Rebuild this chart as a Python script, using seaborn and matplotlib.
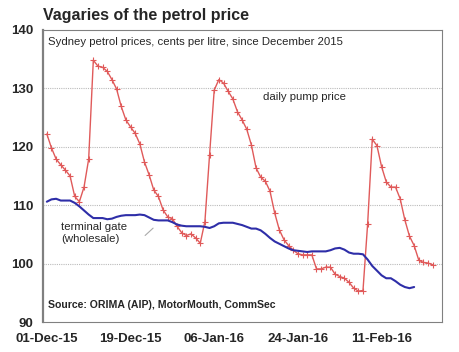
import matplotlib
matplotlib.use('Agg')

import matplotlib.pyplot as plt
import matplotlib.dates as mdates
import numpy as np
import pandas as pd
import seaborn as sns

sns.set_style("white")
plt.rcParams['font.family'] = ['Liberation Sans', 'DejaVu Sans']

# daily pump price (cents per litre), from 01-Dec-15
pump = [122.2, 119.8, 117.9, 116.9, 116.0, 115.0, 111.5, 110.6, 113.1, 117.9,
        134.8, 133.8, 133.6, 132.9, 131.5, 129.9, 126.9, 124.6, 123.4, 122.3,
        120.5, 117.4, 115.2, 112.6, 111.5, 109.2, 108.0, 107.7, 106.4, 105.3,
        104.8, 105.1, 104.4, 103.5, 107.2, 118.6, 129.7, 131.5, 130.9, 129.5,
        128.2, 126.0, 124.6, 123.0, 120.3, 116.4, 114.8, 114.1, 112.4, 108.7,
        105.8, 104.1, 103.1, 102.3, 101.7, 101.5, 101.5, 101.5, 99.1, 99.1,
        99.4, 99.4, 98.2, 97.8, 97.5, 96.8, 95.8, 95.3, 95.4, 106.8,
        121.3, 120.2, 116.6, 114.0, 113.1, 113.1, 111.1, 107.5, 104.7, 103.1,
        100.6, 100.2, 100.1, 99.8]

# terminal gate (wholesale) price
wholesale = [110.6, 111.0, 111.1, 110.8, 110.8, 110.8, 110.4, 109.8, 109.1, 108.4,
             107.8, 107.8, 107.8, 107.6, 107.7, 108.0, 108.2, 108.3, 108.3, 108.3,
             108.4, 108.3, 107.9, 107.5, 107.4, 107.4, 107.4, 107.1, 106.7, 106.5,
             106.4, 106.4, 106.4, 106.4, 106.3, 106.1, 106.4, 106.9, 107.0, 107.0,
             107.0, 106.8, 106.6, 106.3, 106.0, 106.0, 105.7, 105.1, 104.4, 103.8,
             103.4, 103.0, 102.6, 102.3, 102.2, 102.1, 102.0, 102.1, 102.1, 102.1,
             102.1, 102.3, 102.6, 102.7, 102.4, 101.9, 101.7, 101.7, 101.6, 100.7,
             99.6, 98.8, 98.0, 97.5, 97.5, 97.0, 96.4, 96.0, 95.8, 96.0]

start = pd.Timestamp('2015-12-01')
pump_df = pd.DataFrame({'date': pd.date_range(start, periods=len(pump)), 'price': pump})
whole_df = pd.DataFrame({'date': pd.date_range(start, periods=len(wholesale)), 'price': wholesale})

major_dates = pd.date_range(start, periods=5, freq='18D')
y_ticks = [90, 100, 110, 120, 130, 140]

fig = plt.figure(figsize=(4.59, 3.52), dpi=100)
ax = fig.add_axes([0.094, 0.085, 0.868, 0.83])

red = '#e05a5a'
sns.lineplot(data=pump_df, x='date', y='price', ax=ax, color=red, linewidth=1.0,
             marker='+', markersize=5, markeredgewidth=0.8, markeredgecolor=red)
sns.lineplot(data=whole_df, x='date', y='price', ax=ax, color='#2e2ea8', linewidth=1.5)

ax.set_ylim(90, 140)
ax.set_yticks(y_ticks)
ax.set_xlim(start - pd.Timedelta(hours=19), start + pd.Timedelta(days=84.9))
ax.set_xticks(major_dates)
ax.xaxis.set_major_formatter(mdates.DateFormatter('%d-%b-%y'))
ax.xaxis.set_minor_locator(mdates.DayLocator())
ax.set_xlabel('')
ax.set_ylabel('')

for y in [100, 110, 120, 130]:
    ax.axhline(y, color='#bbbbbb', linestyle=(0, (1, 1)), linewidth=0.8, zorder=0)

for s in ax.spines.values():
    s.set_color('#808080')
    s.set_linewidth(0.8)
ax.spines['left'].set_linewidth(1.6)

ax.tick_params(axis='y', which='major', direction='out', length=5, color='#aaaaaa',
               labelsize=9.5, pad=2)
ax.tick_params(axis='x', which='major', direction='in', length=3, color='#808080',
               labelsize=9.5, pad=8)
ax.tick_params(axis='x', which='minor', direction='in', length=2, color='#808080', width=0.6)
for lbl in ax.get_xticklabels() + ax.get_yticklabels():
    lbl.set_fontweight('bold')

fig.text(0.094, 0.957, 'Vagaries of the petrol price', fontsize=11.5, fontweight='bold',
         va='center', ha='left')
ax.text(0.012, 0.975, 'Sydney petrol prices, cents per litre, since December 2015',
        transform=ax.transAxes, fontsize=8.2, va='top', ha='left')
ax.text(0.655, 0.77, 'daily pump price', transform=ax.transAxes, fontsize=8.2,
        va='center', ha='center')
ax.text(0.045, 0.305, 'terminal gate\n(wholesale)', transform=ax.transAxes, fontsize=8.2,
        va='center', ha='left', linespacing=1.15)
ax.annotate('', xy=(start + pd.Timedelta(days=23.3), 106.4),
            xytext=(start + pd.Timedelta(days=20.7), 104.5),
            arrowprops=dict(arrowstyle='-', color='#aaaaaa', lw=0.8))
ax.text(0.012, 0.06, 'Source: ORIMA (AIP), MotorMouth, CommSec', transform=ax.transAxes,
        fontsize=7.6, fontweight='bold', va='center', ha='left')

plt.savefig('out.png', dpi=100)
